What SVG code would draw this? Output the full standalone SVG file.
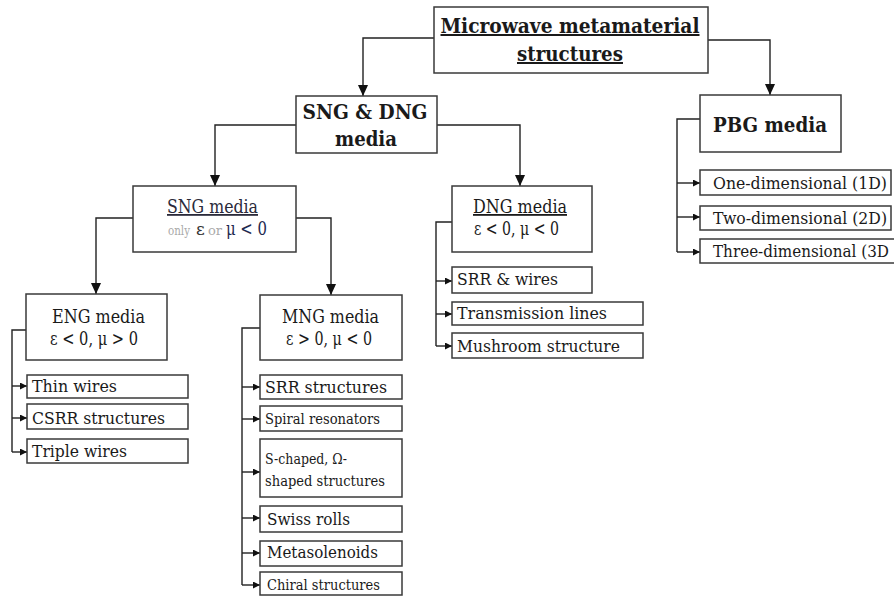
<svg xmlns="http://www.w3.org/2000/svg" width="894" height="596" viewBox="0 0 894 596">
<defs>
<style>
.box{fill:#fff;stroke:#3a3a3a;stroke-width:1.5}
.ln{fill:none;stroke:#222;stroke-width:1.4}
.big{marker-end:url(#ab)}
.sm{marker-end:url(#as)}
text{font-family:"DejaVu Serif","Liberation Serif",serif;fill:#1a1a1a}
.h1{font-size:20px;font-weight:bold;text-anchor:middle}
.h2{font-size:18px;text-anchor:middle}
.c{font-size:16px}
.u{text-decoration:underline}
.g{font-size:13px;fill:#aaa}
</style>
<marker id="ab" markerUnits="userSpaceOnUse" markerWidth="11" markerHeight="12" refX="12" refY="5.5" orient="auto" viewBox="0 0 12 11">
<path d="M0,0 L12,5.5 L0,11 z" fill="#111"/>
</marker>
<marker id="as" markerUnits="userSpaceOnUse" markerWidth="7" markerHeight="7" refX="7" refY="3.5" orient="auto" viewBox="0 0 7 7">
<path d="M0,0 L7,3.5 L0,7 z" fill="#111"/>
</marker>
</defs>

<g id="connectors">
<path class="ln big" d="M434,38 H363 V96"/>
<path class="ln big" d="M708,40 H770 V95"/>
<path class="ln big" d="M296,125 H215 V186"/>
<path class="ln big" d="M437,125 H520 V186"/>
<path class="ln big" d="M133,218 H96 V294"/>
<path class="ln big" d="M296,218 H331 V295"/>
<path class="ln" d="M26,330 H12 V452"/>
<path class="ln sm" d="M12,386 H27"/>
<path class="ln sm" d="M12,418 H27"/>
<path class="ln sm" d="M12,452 H27"/>
<path class="ln" d="M260,328 H242 V585"/>
<path class="ln sm" d="M242,387 H260"/>
<path class="ln sm" d="M242,419 H260"/>
<path class="ln sm" d="M242,472 H260"/>
<path class="ln sm" d="M242,518 H260"/>
<path class="ln sm" d="M242,553 H260"/>
<path class="ln sm" d="M242,585 H260"/>
<path class="ln" d="M452,222 H436 V346"/>
<path class="ln sm" d="M436,281 H452"/>
<path class="ln sm" d="M436,314 H452"/>
<path class="ln sm" d="M436,346 H452"/>
<path class="ln" d="M700,119 H677 V252"/>
<path class="ln sm" d="M677,183 H700"/>
<path class="ln sm" d="M677,217 H700"/>
<path class="ln sm" d="M677,252 H700"/>
</g>

<g id="root">
<rect class="box" x="434" y="7" width="274" height="66"/>
<text class="h1 u" x="570" y="33" textLength="259" lengthAdjust="spacingAndGlyphs">Microwave metamaterial</text>
<text class="h1 u" x="570" y="61" textLength="106" lengthAdjust="spacingAndGlyphs">structures</text>
</g>

<g id="sng-dng">
<rect class="box" x="296" y="96" width="141" height="57"/>
<text class="h1" x="365" y="119" textLength="125" lengthAdjust="spacingAndGlyphs">SNG &amp; DNG</text>
<text class="h1" x="366" y="146" textLength="62" lengthAdjust="spacingAndGlyphs">media</text>
</g>

<g id="pbg">
<rect class="box" x="700" y="95" width="141" height="57"/>
<text class="h1" x="770" y="132" style="font-size:21px" textLength="114" lengthAdjust="spacingAndGlyphs">PBG media</text>
</g>

<g id="sng">
<rect class="box" x="133" y="186" width="163" height="66"/>
<text class="h2 u" x="212.5" y="213" textLength="91" lengthAdjust="spacingAndGlyphs" style="fill:#2a2a3a">SNG media</text>
<text class="g" x="168" y="235" textLength="22" lengthAdjust="spacingAndGlyphs">only</text>
<text x="196" y="235" style="font-size:17px;fill:#333">ε</text>
<text class="g" x="208" y="235">or</text>
<text x="226" y="235" style="font-size:18px;fill:#1f2a50" textLength="41" lengthAdjust="spacingAndGlyphs">μ &lt; 0</text>
</g>

<g id="dng">
<rect class="box" x="452" y="186" width="140" height="66"/>
<text class="h2 u" x="520" y="213" textLength="94" lengthAdjust="spacingAndGlyphs">DNG media</text>
<text class="h2" x="516.5" y="235" textLength="85" lengthAdjust="spacingAndGlyphs">ε &lt; 0, μ &lt; 0</text>
</g>

<g id="eng">
<rect class="box" x="26" y="294" width="141" height="66"/>
<text class="h2" x="98.5" y="323" textLength="93" lengthAdjust="spacingAndGlyphs">ENG media</text>
<text class="h2" x="94" y="345" textLength="88" lengthAdjust="spacingAndGlyphs">ε &lt; 0, μ &gt; 0</text>
</g>

<g id="mng">
<rect class="box" x="260" y="295" width="142" height="65"/>
<text class="h2" x="330.5" y="323" textLength="97" lengthAdjust="spacingAndGlyphs">MNG media</text>
<text class="h2" x="329" y="345" textLength="86" lengthAdjust="spacingAndGlyphs">ε &gt; 0, μ &lt; 0</text>
</g>

<g id="thin-wires">
<rect class="box" x="27" y="375" width="161" height="23"/>
<text class="c" x="32" y="392" textLength="85" lengthAdjust="spacingAndGlyphs">Thin wires</text>
</g>
<g id="csrr">
<rect class="box" x="27" y="404" width="161" height="25"/>
<text class="c" x="32" y="424" textLength="133" lengthAdjust="spacingAndGlyphs">CSRR structures</text>
</g>
<g id="triple-wires">
<rect class="box" x="27" y="439" width="161" height="24"/>
<text class="c" x="32" y="457" textLength="95" lengthAdjust="spacingAndGlyphs">Triple wires</text>
</g>

<g id="srr-structures">
<rect class="box" x="260" y="375" width="142" height="24"/>
<text class="c" x="265" y="393" textLength="122" lengthAdjust="spacingAndGlyphs">SRR structures</text>
</g>
<g id="spiral">
<rect class="box" x="260" y="406" width="142" height="25"/>
<text class="c" x="265" y="424" style="font-size:15px" textLength="115" lengthAdjust="spacingAndGlyphs">Spiral resonators</text>
</g>
<g id="s-shaped">
<rect class="box" x="260" y="439" width="142" height="58"/>
<text class="c" x="265" y="464" style="font-size:14px" textLength="82" lengthAdjust="spacingAndGlyphs">S-chaped, Ω-</text>
<text class="c" x="265" y="486" style="font-size:14px" textLength="120" lengthAdjust="spacingAndGlyphs">shaped structures</text>
</g>
<g id="swiss-rolls">
<rect class="box" x="260" y="506" width="142" height="26"/>
<text class="c" x="267" y="525" textLength="83" lengthAdjust="spacingAndGlyphs">Swiss rolls</text>
</g>
<g id="metasolenoids">
<rect class="box" x="260" y="541" width="142" height="25"/>
<text class="c" x="267" y="558" textLength="111" lengthAdjust="spacingAndGlyphs">Metasolenoids</text>
</g>
<g id="chiral">
<rect class="box" x="260" y="572" width="142" height="23"/>
<text class="c" x="267" y="590" style="font-size:15px" textLength="113" lengthAdjust="spacingAndGlyphs">Chiral structures</text>
</g>

<g id="srr-wires">
<rect class="box" x="452" y="267" width="140" height="26"/>
<text class="c" x="457" y="285" textLength="101" lengthAdjust="spacingAndGlyphs">SRR &amp; wires</text>
</g>
<g id="transmission">
<rect class="box" x="452" y="302" width="191" height="23"/>
<text class="c" x="457" y="319" textLength="150" lengthAdjust="spacingAndGlyphs">Transmission lines</text>
</g>
<g id="mushroom">
<rect class="box" x="452" y="333" width="191" height="25"/>
<text class="c" x="457" y="352" textLength="163" lengthAdjust="spacingAndGlyphs">Mushroom structure</text>
</g>

<g id="one-d">
<rect class="box" x="700" y="170" width="191" height="25"/>
<text class="c" x="713" y="189" textLength="174" lengthAdjust="spacingAndGlyphs">One-dimensional (1D)</text>
</g>
<g id="two-d">
<rect class="box" x="700" y="206" width="191" height="24"/>
<text class="c" x="713" y="224" textLength="174" lengthAdjust="spacingAndGlyphs">Two-dimensional (2D)</text>
</g>
<g id="three-d">
<rect class="box" x="700" y="239" width="200" height="24"/>
<text class="c" x="713" y="257" textLength="176" lengthAdjust="spacingAndGlyphs">Three-dimensional (3D</text>
</g>
</svg>
